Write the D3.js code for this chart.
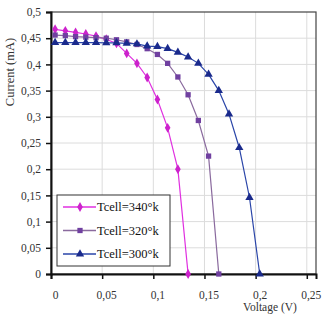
<!DOCTYPE html>
<html>
<head>
<meta charset="utf-8">
<script src="https://cdn.jsdelivr.net/npm/d3@7"></script>
<style>
  body { margin: 0; background: #fff; }
  svg { display: block; }
</style>
</head>
<body>
<svg></svg>
<script>
const svgWidth = 322
const svgHeight = 314
const margins = { top: 12, bottom: 40, left: 51, right: 6 }
const plotWidth = svgWidth - margins.left - margins.right
const plotHeight = svgHeight - margins.top - margins.bottom

// data
const v340 = [0.004, 0.014, 0.024, 0.034, 0.044, 0.054, 0.064, 0.074, 0.084, 0.094, 0.104, 0.114, 0.124, 0.134]
const i340 = [0.467, 0.464, 0.461, 0.458, 0.454, 0.448, 0.440, 0.421, 0.402, 0.375, 0.333, 0.279, 0.200, 0]
const v320 = [0.004, 0.014, 0.024, 0.034, 0.044, 0.054, 0.064, 0.074, 0.084, 0.094, 0.104, 0.114, 0.124, 0.134, 0.144, 0.154, 0.164]
const i320 = [0.456, 0.455, 0.453, 0.452, 0.451, 0.450, 0.447, 0.443, 0.438, 0.430, 0.419, 0.402, 0.376, 0.342, 0.293, 0.225, 0]
const v300 = [0.004, 0.014, 0.024, 0.034, 0.044, 0.054, 0.064, 0.074, 0.084, 0.094, 0.104, 0.114, 0.124, 0.134, 0.144, 0.154, 0.164, 0.174, 0.184, 0.194, 0.204]
const i300 = [0.4415, 0.4415, 0.4415, 0.4415, 0.4415, 0.441, 0.441, 0.440, 0.439, 0.435, 0.434, 0.430, 0.423, 0.414, 0.402, 0.381, 0.350, 0.305, 0.241, 0.146, 0]
const seriesNames = ["Tcell=340°k", "Tcell=320°k", "Tcell=300°k"]
const xTicks = [0, 0.05, 0.1, 0.15, 0.2, 0.25]
const yTicks = [0, 0.05, 0.1, 0.15, 0.2, 0.25, 0.3, 0.35, 0.4, 0.45, 0.5]

const series = [
    { name: seriesNames[0], v: v340, i: i340, line: "#e030e0", fill: "#cc22cc", symbol: d3.symbolDiamond, size: 28 },
    { name: seriesNames[1], v: v320, i: i320, line: "#8a6a9e", fill: "#7040a0", symbol: d3.symbolSquare, size: 28 },
    { name: seriesNames[2], v: v300, i: i300, line: "#2a45a8", fill: "#1a2a8c", symbol: d3.symbolTriangle, size: 30 }
]

const fmt = (d) => String(d).replace(".", ",")

const svg = d3.select("svg")
    .attr("width", svgWidth)
    .attr("height", svgHeight)
    .style("font-family", "'Liberation Serif', 'Times New Roman', serif")

const xScale = d3.scaleLinear().domain([0, 0.259]).range([0, plotWidth])
const yScale = d3.scaleLinear().domain([0, 0.5]).range([plotHeight, 0])

const plot = svg.append("g")
    .attr("transform", `translate(${margins.left},${margins.top})`)

// grid
plot.append("g")
    .selectAll("line")
    .data(xTicks.slice(1))
    .join("line")
    .attr("x1", (d) => xScale(d)).attr("x2", (d) => xScale(d))
    .attr("y1", 0).attr("y2", plotHeight)
    .attr("stroke", "#dcdcdc")
plot.append("g")
    .selectAll("line")
    .data(yTicks.slice(1, -1))
    .join("line")
    .attr("x1", 0).attr("x2", plotWidth)
    .attr("y1", (d) => yScale(d)).attr("y2", (d) => yScale(d))
    .attr("stroke", "#dcdcdc")

// frame top/right
plot.append("rect")
    .attr("width", plotWidth).attr("height", plotHeight)
    .attr("fill", "none").attr("stroke", "#444").attr("stroke-width", 1.2)

// axes
const xAxis = plot.append("g")
    .attr("transform", `translate(0,${plotHeight})`)
    .call(d3.axisBottom(xScale).tickValues(xTicks).tickFormat(fmt).tickSize(5).tickPadding(12))
const yAxis = plot.append("g")
    .call(d3.axisLeft(yScale).tickValues(yTicks).tickFormat(fmt).tickSize(5).tickPadding(5))
;[xAxis, yAxis].forEach((ax) => {
    ax.select(".domain").attr("stroke", "#111").attr("stroke-width", 2)
    ax.selectAll(".tick line").attr("stroke", "#111").attr("stroke-width", 1.5)
    ax.selectAll(".tick text")
        .attr("font-family", "'Liberation Serif', serif")
        .attr("font-size", 11.5)
        .attr("fill", "#333")
})
xAxis.selectAll(".tick text").attr("dx", 4)

// lines and markers
const lineGen = d3.line()
    .x((d) => xScale(d[0]))
    .y((d) => yScale(d[1]))

series.forEach((s) => {
    const pts = s.v.map((v, k) => [v, s.i[k]])
    plot.append("path")
        .datum(pts)
        .attr("d", lineGen)
        .attr("fill", "none")
        .attr("stroke", s.line)
        .attr("stroke-width", 1.2)
    plot.append("g")
        .selectAll("path")
        .data(pts)
        .join("path")
        .attr("transform", (d) => `translate(${xScale(d[0])},${yScale(d[1])})`)
        .attr("d", d3.symbol().type(s.symbol).size(s.size))
        .attr("fill", s.fill)
})

// legend
const legend = svg.append("g").attr("transform", "translate(57,195)")
legend.append("rect")
    .attr("width", 113).attr("height", 71)
    .attr("fill", "#fff").attr("stroke", "#333").attr("stroke-width", 1)
series.forEach((s, k) => {
    const y = 12 + k * 23.5
    legend.append("line")
        .attr("x1", 6).attr("x2", 39).attr("y1", y).attr("y2", y)
        .attr("stroke", s.line).attr("stroke-width", 1.5)
    legend.append("path")
        .attr("transform", `translate(23,${y})`)
        .attr("d", d3.symbol().type(s.symbol).size(s.size))
        .attr("fill", s.fill)
    legend.append("text")
        .attr("x", 40).attr("y", y + 4)
        .attr("font-size", 12.5)
        .attr("fill", "#111")
        .text(s.name)
})

// axis titles
svg.append("text")
    .attr("transform", "translate(14,72) rotate(-90)")
    .attr("text-anchor", "middle")
    .attr("font-size", 12.5)
    .attr("fill", "#333")
    .text("Current (mA)")
svg.append("text")
    .attr("x", 270).attr("y", 311)
    .attr("text-anchor", "middle")
    .attr("font-size", 11.5)
    .attr("fill", "#333")
    .text("Voltage (V)")
</script>
</body>
</html>
